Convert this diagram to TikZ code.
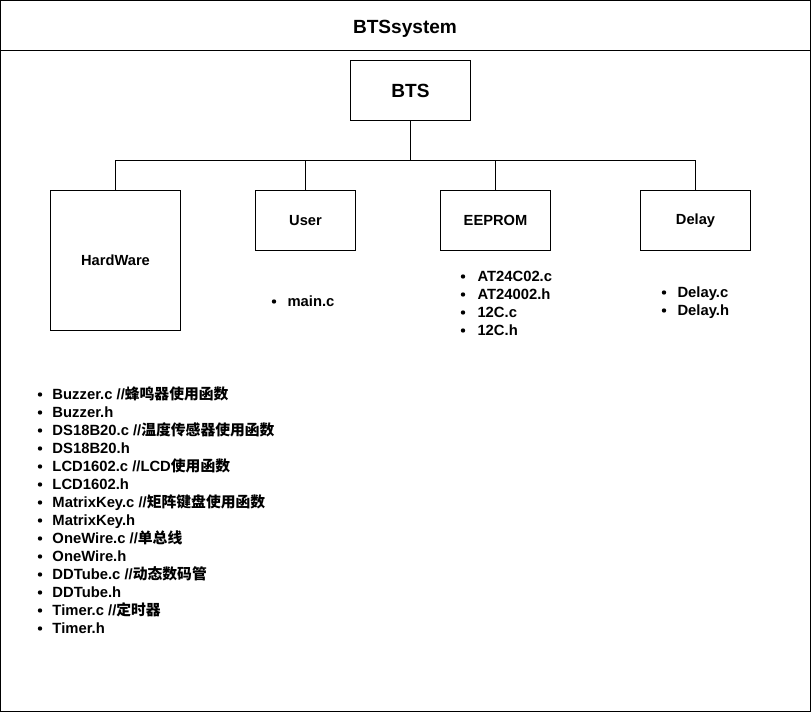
\documentclass[tikz,border=0pt]{standalone}
\usepackage{fontspec}
\setmainfont{Liberation Sans}
\newfontfamily\cjk{Noto Sans CJK SC}
\begin{document}
\begin{tikzpicture}[x=0.75pt,y=-0.75pt,line width=0.75pt,
  box/.style={draw,inner sep=0,font=\bfseries\fontsize{11}{12}\selectfont},
  big/.style={font=\bfseries\fontsize{14.3}{16}\selectfont},
  txt/.style={anchor=base west,inner sep=0,font=\bfseries\fontsize{11.1}{12}\selectfont},
  dot/.style={circle,fill,inner sep=0,minimum size=3.3pt}]
\useasboundingbox (0,0) rectangle (811,712);
\draw (0.5,0.5) rectangle (810.5,711.5);
\draw (0.5,50.5) -- (810.5,50.5);
\node[big] (title) at (405,29) {BTSsystem};
% boxes
\node[box,big,minimum width=90pt,minimum height=45pt] (bts) at (410.5,90.5) {BTS};
\node[box,minimum width=97.5pt,minimum height=105pt] (hw) at (115.5,260.5) {\raisebox{-0.75pt}{HardWare}};
\node[box,minimum width=75pt,minimum height=45pt] (user) at (305.5,220.5) {\raisebox{-0.75pt}{User}};
\node[box,minimum width=82.5pt,minimum height=45pt] (ee) at (495.5,220.5) {\raisebox{-0.75pt}{EEPROM}};
\node[box,minimum width=82.5pt,minimum height=45pt] (del) at (695.5,220.5) {\raisebox{-0.75pt}{Delay}};
\coordinate (j) at (410.5,160.5);
\draw (bts.south) -- (j);
\draw (hw.north) |- (j) -| (del.north);
\draw (user.north) -- (user.north |- j);
\draw (ee.north) -- (ee.north |- j);
% lists
\node[dot] (u1) at (274,301.5) {};
\node[txt] (ut1) at (287,307) {main.c};
\foreach \t [count=\i] in {AT24C02.c,AT24002.h,12C.c,12C.h}{
  \node[dot] (eb\i) at (463,276.5+18*\i-18) {};
  \node[txt] (et\i) at (477,282+18*\i-18) {\t};
}
\foreach \t [count=\i] in {Delay.c,Delay.h}{
  \node[dot] (db\i) at (664,292.5+18*\i-18) {};
  \node[txt] (dt\i) at (677,298+18*\i-18) {\t};
}
\foreach \t [count=\i] in {
  {Buzzer.c //{\cjk 蜂鸣器使用函数}},
  {Buzzer.h},
  {DS18B20.c //{\cjk 温度传感器使用函数}},
  {DS18B20.h},
  {LCD1602.c //LCD{\cjk 使用函数}},
  {LCD1602.h},
  {MatrixKey.c //{\cjk 矩阵键盘使用函数}},
  {MatrixKey.h},
  {OneWire.c //{\cjk 单总线}},
  {OneWire.h},
  {DDTube.c //{\cjk 动态数码管}},
  {DDTube.h},
  {Timer.c //{\cjk 定时器}},
  {Timer.h}}{
  \node[dot] (hb\i) at (40,394.5+18*\i-18) {};
  \node[txt] (ht\i) at (52,400+18*\i-18) {\t};
}
\end{tikzpicture}
\end{document}
